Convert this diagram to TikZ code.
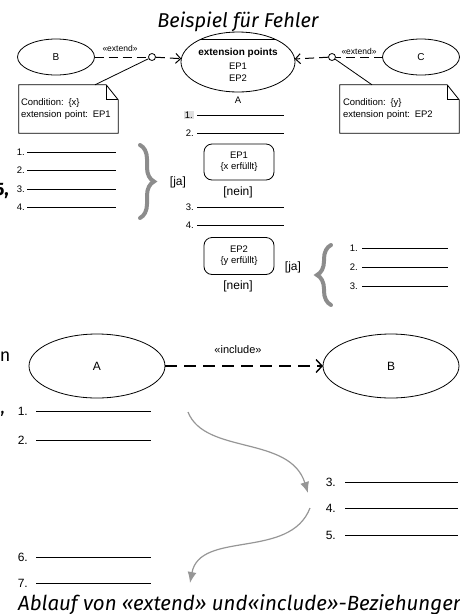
\documentclass[tikz,border=0pt]{standalone}
\usepackage{fontspec}
\setmainfont{Liberation Sans}
\newfontfamily\slidefont{Fira Sans}
\usetikzlibrary{%
        arrows.meta,
        decorations.pathreplacing,
        shapes.geometric
    }
\definecolor{bracegray}{RGB}{140, 140, 140}
\definecolor{flowgray}{RGB}{150, 150, 150}
\tikzset{%
    usecase/.style={ellipse, draw, line width=0.8pt, inner sep=0pt, outer sep=0pt},
    hook/.style={circle, draw, line width=0.8pt, minimum size=7pt, inner sep=0pt, fill=white},
    guard/.style={%
        draw, rounded corners=8pt, line width=0.8pt,
        minimum width=70pt, minimum height=36pt, align=center,
        font=\fontsize{9.5}{11}\selectfont
    },
    txtsmall/.style={font=\fontsize{9.5}{11.5}\selectfont, inner sep=0pt},
    txtbig/.style={font=\fontsize{12}{14}\selectfont, inner sep=0pt},
    slidetxt/.style={font=\slidefont\fontsize{20}{24}\selectfont, inner sep=0pt},
    extendline/.style={dashed, dash pattern=on 9pt off 5pt, line width=1pt},
    includeline/.style={%
        dash pattern=on 12pt off 7pt, line width=1.4pt,
        -{Straight Barb[length=6pt, width=13pt]}
    },
    flow/.style={flowgray, line width=1.2pt, -{Latex[length=11pt, width=9pt]}},
    bigbrace/.style={%
        bracegray, line width=4pt, line cap=round,
        decorate, decoration={brace, amplitude=14pt}
    }
}

\begin{document}
\begin{tikzpicture}[x=1pt, y=-1pt]

    \useasboundingbox (0, 0) rectangle (460, 614);

    % Title
    \node[slidetxt, anchor=base] (title) at (238, 27) {\itshape Beispiel für Fehler};

    % Extended use case with its extension points
    \node[usecase, minimum width=114pt, minimum height=60pt] (ext) at (238, 62) {};
    \draw[line width=0.8pt] (ext.148) -- (ext.32);
    \node[txtsmall, font=\fontsize{10}{12}\selectfont\bfseries] (extpts) at (238, 53) {extension points};
    \node[txtsmall] (ep1) at (238, 66) {EP1};
    \node[txtsmall] (ep2) at (238, 78) {EP2};
    \node[txtsmall] (nameA) at (238, 100) {A};

    % Extending use cases
    \node[usecase, minimum width=77pt, minimum height=36pt] (B) at (56, 57) {\fontsize{10}{12}\selectfont B};
    \node[usecase, minimum width=77pt, minimum height=36pt] (C) at (421, 57) {\fontsize{10}{12}\selectfont C};
    \node[hook] (cB) at (152, 57) {};
    \node[hook] (cC) at (332, 57) {};

    \draw[extendline] (B) -- (cB);
    \draw[extendline, -{Straight Barb[length=5pt, width=10pt]}] (cB) -- (ext);
    \node[txtsmall, font=\fontsize{8.5}{10}\selectfont] (extB) at (120, 48) {«extend»};

    \draw[extendline] (C) -- (cC);
    \draw[extendline, -{Straight Barb[length=5pt, width=10pt]}] (cC) -- (ext);
    \node[txtsmall, font=\fontsize{8.5}{10}\selectfont] (extC) at (359, 51) {«extend»};

    % Notes
    \node[txtsmall, minimum width=99pt, minimum height=48pt, text width=95pt, align=left]
        (noteB) at (68.5, 109) {Condition: \{x\}\\extension point: EP1};
    \node[txtsmall, minimum width=119pt, minimum height=48pt, text width=113pt, align=left]
        (noteC) at (399.5, 109) {Condition: \{y\}\\extension point: EP2};

    \foreach \note in {noteB, noteC}{%
        \draw[line width=0.8pt]
            (\note.north west) -- ([xshift=-12pt]\note.north east)
            -- ([yshift=-15pt]\note.north east) -- (\note.south east)
            -- (\note.south west) -- cycle;
        \draw[line width=0.8pt]
            ([xshift=-12pt]\note.north east) |- ([yshift=-15pt]\note.north east);
    };
    \draw[line width=0.8pt] (cB) -- ([xshift=26.5pt]noteB.north);
    \draw[line width=0.8pt] (cC) -- ([xshift=-27.5pt]noteC.north);

    % Steps of A
    \node[txtsmall, fill=gray!25, inner sep=1pt, anchor=east] (a1) at (194, 115) {1.};
    \node[txtsmall, anchor=east] (a2) at (194, 133) {2.};
    \node[txtsmall, anchor=east] (a3) at (194, 207) {3.};
    \node[txtsmall, anchor=east] (a4) at (194, 225) {4.};
    \foreach \step in {a1, a2, a3, a4}{%
        \draw ([xshift=3pt]\step.east) -- (284, 0 |- \step.east);
    };

    \node[guard] (g1) at (239, 162) {EP1\\\{x erfüllt\}};
    \node[txtbig] (no1) at (238, 192) {[nein]};
    \node[txtbig] (yes1) at (178, 182) {[ja]};

    \node[guard, minimum height=37pt] (g2) at (239, 256) {EP2\\\{y erfüllt\}};
    \node[txtbig] (no2) at (238, 286) {[nein]};
    \node[txtbig] (yes2) at (293, 267) {[ja]};

    % Steps of B
    \foreach \val/\y in {1/152, 2/170, 3/189, 4/207}{%
        \node[txtsmall, anchor=east] (b\val) at (25, \y) {\val.};
        \draw ([xshift=2pt]b\val.east) -- ++(89, 0);
    };
    \draw[bigbrace] (140, 145) -- (140, 218);

    % Steps of C
    \foreach \val/\y in {1/248, 2/267, 3/286}{%
        \node[txtsmall, anchor=east] (c\val) at (358, \y) {\val.};
        \draw ([xshift=4pt]c\val.east) -- ++(86, 0);
    };
    \draw[bigbrace] (331, 305) -- (331, 245);

    % Cut off slide text
    \node[slidetxt, font=\slidefont\bfseries\fontsize{18}{22}\selectfont, anchor=base east] (cut5) at (9, 195) {5,};
    \node[slidetxt, font=\slidefont\fontsize{18}{22}\selectfont, anchor=base east] (cutn) at (10.5, 361) {n};
    \node[slidetxt, font=\slidefont\fontsize{18}{22}\selectfont, anchor=base east] (cutc) at (5, 413) {,};

    % Include
    \node[usecase, minimum width=136pt, minimum height=64pt] (Alow) at (97, 366) {\fontsize{12}{14}\selectfont A};
    \node[usecase, minimum width=136pt, minimum height=64pt] (Blow) at (391, 366) {\fontsize{12}{14}\selectfont B};
    \draw[includeline] (Alow) -- (Blow);
    \node[txtsmall, font=\fontsize{11}{13}\selectfont] (incl) at (238, 350) {«include»};

    \foreach \val/\y in {1/411, 2/440, 6/557, 7/583}{%
        \node[txtbig, anchor=east] (s\val) at (28, \y) {\val.};
        \draw[line width=0.9pt] ([xshift=8pt]s\val.east) -- ++(115, 0);
    };
    \foreach \val/\y in {3/482, 4/508, 5/535}{%
        \node[txtbig, anchor=east] (s\val) at (336, \y) {\val.};
        \draw[line width=0.9pt] ([xshift=9pt]s\val.east) -- ++(113, 0);
    };

    % Jumping from A to B and back
    \coordinate (jump1) at (188, 412);
    \coordinate (land1) at (308, 493);
    \coordinate (jump2) at (310, 508);
    \coordinate (land2) at (190, 583);
    \draw[flow] (jump1) .. controls (205, 455) and (290, 435) .. (land1);
    \draw[flow] (jump2) .. controls (290, 560) and (200, 530) .. (land2);

    % Caption
    \node[slidetxt, font=\slidefont\fontsize{20.5}{24}\selectfont, anchor=base west] (caption) at (18, 610)
        {\itshape Ablauf von «extend» und«include»-Beziehungen};

\end{tikzpicture}
\end{document}
